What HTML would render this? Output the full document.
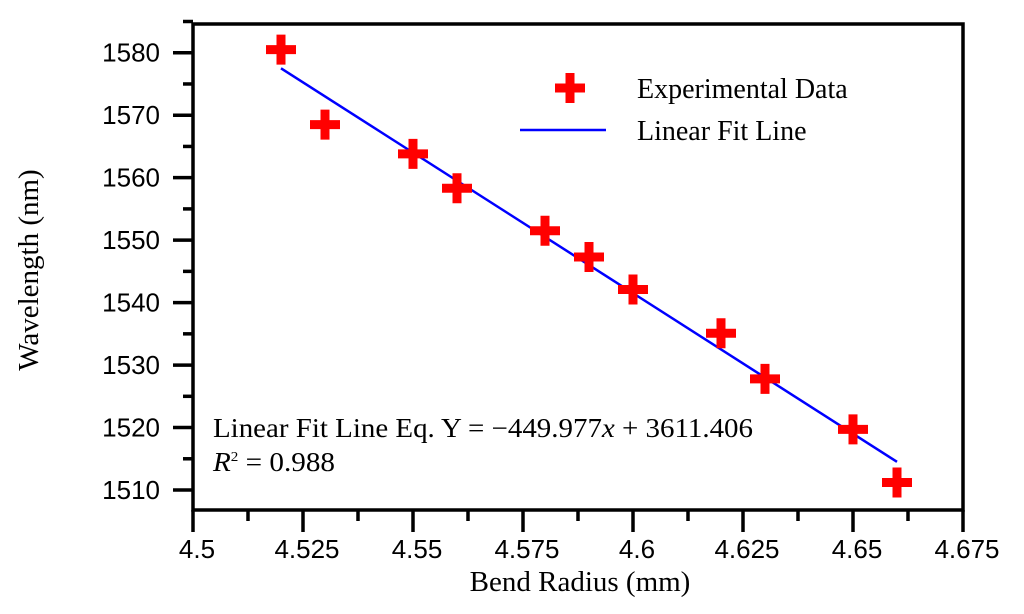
<!DOCTYPE html>
<html><head><meta charset="utf-8"><style>
body{margin:0;background:#fff;width:1024px;height:614px;overflow:hidden}
svg{display:block}
.s{font-family:"Liberation Sans",sans-serif}
.r{font-family:"Liberation Serif",serif}
</style></head><body>
<svg id="c" width="1024" height="614">
<g id="axes"></g><g id="marks"></g>
<text class="r" x="38" y="270" font-size="29" text-anchor="middle" transform="rotate(-90 38 270)">Wavelength (nm)</text>
<text class="r" x="580" y="591" font-size="29" text-anchor="middle">Bend Radius (mm)</text>
<g>
<path d="M555 88h30M570 73v30" stroke="#f00" stroke-width="9"/>
<text class="r" x="637" y="98" font-size="28">Experimental Data</text>
<line x1="520" y1="130" x2="606" y2="130" stroke="#00f" stroke-width="2.5"/>
<text class="r" x="637" y="140" font-size="28">Linear Fit Line</text>
</g>
<text class="r" x="213" y="437" font-size="27" textLength="540" lengthAdjust="spacingAndGlyphs">Linear Fit Line Eq. Y = −449.977<tspan font-style="italic">x</tspan> + 3611.406</text>
<text class="r" x="213" y="471" font-size="27" textLength="122" lengthAdjust="spacingAndGlyphs"><tspan font-style="italic">R</tspan><tspan font-size="14" dy="-10">2</tspan><tspan dy="10"> = 0.988</tspan></text>
</svg>
<script>
const xs=[4.52,4.53,4.55,4.56,4.58,4.59,4.6,4.62,4.63,4.65,4.66];
const ys=[1580.5,1568.5,1563.8,1558.3,1551.5,1547.3,1542.1,1535.1,1527.8,1519.7,1511.2];
const slope=-449.977, intercept=3611.406;
const xTicks=[4.5,4.525,4.55,4.575,4.6,4.625,4.65,4.675];
const yTicks=[1510,1520,1530,1540,1550,1560,1570,1580];
const L=193,R=963,T=24,B=510,x0=4.5,x1=4.675,y0=1506.8,y1=1584.6;
const X=v=>L+(v-x0)/(x1-x0)*(R-L), Y=v=>B-(v-y0)/(y1-y0)*(B-T);
const NS="http://www.w3.org/2000/svg";
function mk(p,t,a){const e=document.createElementNS(NS,t);for(const k in a)e.setAttribute(k,a[k]);p.appendChild(e);return e;}
const ax=document.getElementById('axes'), mg=document.getElementById('marks');
const fr=mk(ax,'rect',{x:L,y:T,width:R-L,height:B-T,fill:'none',stroke:'#000','stroke-width':3.5});


xTicks.forEach((v,i)=>{
 const t=mk(ax,'line',{x1:X(v),x2:X(v),y1:B,y2:B+22,stroke:'#000','stroke-width':3.5});
 
 
 if(i<xTicks.length-1){const m=(v+xTicks[i+1])/2;const mt=mk(ax,'line',{x1:X(m),x2:X(m),y1:B,y2:B+11,stroke:'#000','stroke-width':3.5});
 
 }
 const l=mk(ax,'text',{x:X(v)+4,y:B+48,'font-size':26,'text-anchor':'middle',class:'s'});l.textContent=String(v);
 
 
});
yTicks.forEach((v,i)=>{
 const t=mk(ax,'line',{x1:L-20,x2:L,y1:Y(v),y2:Y(v),stroke:'#000','stroke-width':3.5});
 
 
 const m=v+5;const mt=mk(ax,'line',{x1:L-10,x2:L,y1:Y(m),y2:Y(m),stroke:'#000','stroke-width':3.5});
 
 
 const l=mk(ax,'text',{x:L-33,y:Y(v)+9,'font-size':26,'text-anchor':'end',class:'s'});l.textContent=String(v);
 
 
});
const xa=xs[0], xb=xs[xs.length-1];
const fl=mk(mg,'line',{x1:X(xa),y1:Y(slope*xa+intercept),x2:X(xb),y2:Y(slope*xb+intercept),stroke:'#00f','stroke-width':2.5});


xs.forEach((v,i)=>{
 const px=X(v),py=Y(ys[i]);
 const p=mk(mg,'path',{d:`M${px-15} ${py}h30M${px} ${py-15}v30`,stroke:'#f00','stroke-width':9});
 
 
});
</script>
</body></html>
